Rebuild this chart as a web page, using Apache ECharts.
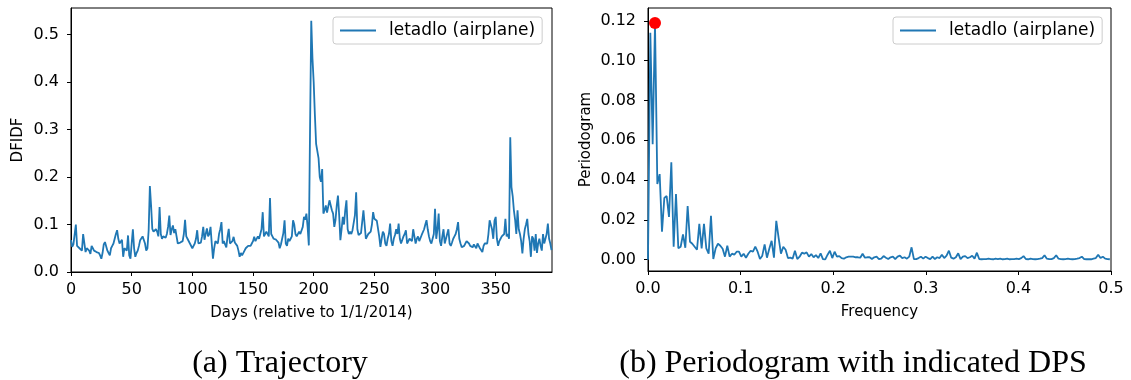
<!DOCTYPE html>
<html>
<head>
<meta charset="utf-8">
<script src="https://cdn.jsdelivr.net/npm/echarts@6/dist/echarts.min.js"></script>
<style>
html,body{margin:0;padding:0;background:#fff;}
#chart{width:1131px;height:380px;}
</style>
</head>
<body>
<div id="chart"></div>
<script>
// ---- data ----
const seriesName = 'letadlo (airplane)';
const dfidf = [
0.067,0.053,0.058,0.06,0.10,0.055,0.052,0.05,0.048,0.045,
0.08,0.078,0.042,0.05,0.048,0.045,0.038,0.055,0.05,0.045,
0.048,0.042,0.045,0.04,0.035,0.028,0.04,0.058,0.063,0.06,
0.045,0.04,0.035,0.05,0.055,0.06,0.07,0.08,0.088,0.07,
0.06,0.062,0.068,0.032,0.05,0.048,0.045,0.077,0.035,0.028,
0.06,0.09,0.05,0.032,0.04,0.045,0.055,0.067,0.07,0.075,
0.077,0.06,0.045,0.05,0.088,0.181,0.14,0.091,0.085,0.088,
0.09,0.085,0.075,0.137,0.08,0.07,0.075,0.078,0.072,0.08,
0.095,0.119,0.078,0.09,0.098,0.082,0.09,0.075,0.06,0.062,
0.062,0.06,0.065,0.08,0.11,0.075,0.07,0.068,0.06,0.058,
0.05,0.055,0.06,0.07,0.088,0.06,0.06,0.062,0.075,0.095,
0.068,0.07,0.092,0.075,0.08,0.095,0.06,0.028,0.05,0.065,
0.068,0.06,0.08,0.09,0.105,0.06,0.065,0.058,0.052,0.075,
0.091,0.06,0.058,0.065,0.074,0.062,0.06,0.055,0.045,0.032,
0.04,0.035,0.035,0.045,0.05,0.048,0.055,0.058,0.055,0.06,
0.065,0.074,0.065,0.068,0.075,0.07,0.08,0.09,0.126,0.075,
0.08,0.085,0.088,0.075,0.156,0.08,0.075,0.07,0.072,0.068,
0.065,0.062,0.05,0.058,0.07,0.082,0.109,0.06,0.055,0.07,
0.065,0.07,0.075,0.109,0.1,0.08,0.075,0.078,0.085,0.08,
0.08,0.095,0.116,0.11,0.123,0.095,0.056,0.3,0.529,0.45,
0.40,0.33,0.27,0.272,0.24,0.2,0.19,0.217,0.123,0.13,
0.14,0.125,0.123,0.151,0.148,0.13,0.123,0.095,0.11,0.14,
0.161,0.12,0.067,0.09,0.116,0.1,0.13,0.151,0.09,0.08,
0.085,0.08,0.088,0.09,0.12,0.168,0.09,0.078,0.08,0.082,
0.08,0.13,0.1,0.07,0.075,0.08,0.082,0.085,0.1,0.126,
0.112,0.11,0.108,0.11,0.075,0.053,0.07,0.085,0.08,0.06,
0.055,0.07,0.08,0.102,0.065,0.055,0.07,0.078,0.09,0.08,
0.102,0.07,0.06,0.06,0.075,0.08,0.088,0.06,0.065,0.07,
0.072,0.065,0.09,0.075,0.06,0.07,0.075,0.065,0.062,0.078,
0.08,0.09,0.1,0.109,0.09,0.075,0.065,0.06,0.06,0.08,
0.133,0.07,0.09,0.123,0.065,0.055,0.075,0.09,0.06,0.058,
0.08,0.09,0.06,0.055,0.062,0.07,0.075,0.08,0.09,0.105,
0.07,0.06,0.052,0.05,0.055,0.06,0.065,0.068,0.06,0.055,
0.055,0.052,0.058,0.055,0.05,0.06,0.055,0.05,0.048,0.042,
0.055,0.06,0.058,0.06,0.08,0.109,0.11,0.09,0.07,0.108,
0.116,0.07,0.055,0.065,0.07,0.075,0.072,0.08,0.112,0.075,
0.08,0.07,0.284,0.179,0.16,0.13,0.11,0.08,0.13,0.09,
0.08,0.065,0.039,0.07,0.09,0.1,0.112,0.08,0.065,0.032,
0.075,0.07,0.045,0.08,0.04,0.06,0.07,0.055,0.045,0.08,
0.06,0.07,0.08,0.102,0.07,0.06,0.046
];
const periodogram = [
0.0,0.114,0.058,0.119,0.038,0.043,0.014,0.031,0.032,0.0215,
0.049,0.0065,0.033,0.0057,0.0065,0.0127,0.006,0.027,0.009,0.008,
0.0065,0.005,0.018,0.0057,0.018,0.0057,0.003,0.022,0.0003,0.0057,
0.008,0.007,0.0055,0.0015,0.007,0.0015,0.003,0.0025,0.004,0.004,
0.0015,0.003,0.001,0.003,0.0045,0.004,0.0065,0.004,0.0003,0.002,
0.0077,0.001,0.0055,0.0095,0.001,0.0195,0.011,0.003,0.0065,0.005,
0.0008,0.001,0.0005,0.0045,0.0003,0.0015,0.0035,0.003,0.0037,0.0015,
0.0028,0.0012,0.0023,0.0008,0.0032,0.0003,0.0001,0.0025,0.0045,0.0008,
0.004,0.0015,0.0018,0.0008,0.0005,0.0012,0.0015,0.0015,0.0015,0.0012,
0.0012,0.001,0.003,0.001,0.0012,0.0012,0.0003,0.0012,0.0015,0.0003,
0.0005,0.0018,0.001,0.0003,0.0012,0.0015,0.0003,0.0015,0.002,0.0008,
0.0012,0.0005,0.0015,0.0062,0.0003,0.0003,0.0008,0.0015,0.0005,0.0015,
0.0008,0.0003,0.0015,0.0003,0.0012,0.0008,0.0025,0.0008,0.002,0.0045,
0.001,0.0005,0.0012,0.0032,0.0003,0.0015,0.0018,0.0008,0.0012,0.002,
0.0005,0.0035,0.0003,0.0002,0.0003,0.0003,0.0005,0.0003,0.0002,0.0005,
0.0003,0.0005,0.0002,0.0003,0.0005,0.0002,0.0003,0.0003,0.0005,0.0003,
0.0008,0.0018,0.0003,0.0002,0.0005,0.0003,0.0002,0.0003,0.0005,0.0008,
0.0022,0.0005,0.0003,0.0003,0.0008,0.0022,0.0005,0.0003,0.0002,0.0003,
0.0005,0.0003,0.0002,0.0003,0.0005,0.0008,0.0015,0.0003,0.0002,0.0003,
0.0002,0.0005,0.0008,0.0025,0.0008,0.0015,0.0005,0.0003,0.0002
];
const sampleCount = 397;           // days in the trajectory
const dpsFreq = [3 / 397];
const dpsValue = [0.119];
const leftXTicks = [0, 50, 100, 150, 200, 250, 300, 350];
const leftYTicks = [0.0, 0.1, 0.2, 0.3, 0.4, 0.5];
const rightXTicks = [0.0, 0.1, 0.2, 0.3, 0.4, 0.5];
const rightYTicks = [0.00, 0.02, 0.04, 0.06, 0.08, 0.10, 0.12];
const leftXLabel = 'Days (relative to 1/1/2014)';
const leftYLabel = 'DFIDF';
const rightXLabel = 'Frequency';
const rightYLabel = 'Periodogram';
const captionA = '(a) Trajectory';
const captionB = '(b) Periodogram with indicated DPS';

// ---- build ----
const trajData = dfidf.map((v, i) => [i, v]);
const perData = periodogram.map((v, k) => [k / sampleCount, v]);
const dpsData = dpsFreq.map((f, i) => [f, dpsValue[i]]);

const FONT = 'DejaVu Sans';
const BLUE = '#1f77b4';
const tickStyle = (vals) => ({
  axisLine: { show: true, onZero: false, lineStyle: { color: '#000', width: 1 } },
  axisTick: { show: true, inside: false, length: 4, customValues: vals, lineStyle: { color: '#000', width: 1 } },
  splitLine: { show: false },
});
function xAxis(gi, min, max, ticks, fmt, name) {
  return Object.assign({
    type: 'value', gridIndex: gi, min: min, max: max,
    name: name, nameLocation: 'middle', nameGap: 34,
    nameTextStyle: { fontFamily: FONT, fontSize: 15, color: '#000' },
    axisLabel: { customValues: ticks, formatter: fmt, margin: 10, fontFamily: FONT, fontSize: 16, color: '#000' },
  }, tickStyle(ticks));
}
function yAxis(gi, min, max, ticks, fmt, name, gap) {
  return Object.assign({
    type: 'value', gridIndex: gi, min: min, max: max,
    name: name, nameLocation: 'middle', nameGap: gap, nameRotate: 90,
    nameTextStyle: { fontFamily: FONT, fontSize: 15, color: '#000' },
    axisLabel: { customValues: ticks, formatter: fmt, margin: 12, fontFamily: FONT, fontSize: 16, color: '#000' },
  }, tickStyle(ticks));
}
function legend(left) {
  return {
    data: [seriesName], left: left, top: 17,
    orient: 'vertical',
    icon: 'rect', itemWidth: 36, itemHeight: 2,
    padding: [5, 7, 5, 7],
    borderColor: '#cccccc', borderWidth: 1, borderRadius: 3,
    backgroundColor: 'rgba(255,255,255,0.8)',
    textStyle: { fontFamily: FONT, fontSize: 17, color: '#000', padding: [0, 0, 0, 8] },
    selectedMode: false,
  };
}

const chart = echarts.init(document.getElementById('chart'), null, { renderer: 'canvas' });
chart.setOption({
  animation: false,
  backgroundColor: '#fff',
  grid: [
    { left: 71, top: 8, width: 481, height: 264, show: true, borderColor: '#000', borderWidth: 1, containLabel: false },
    { left: 648, top: 8, width: 463, height: 263, show: true, borderColor: '#000', borderWidth: 1, containLabel: false },
  ],
  xAxis: [
    xAxis(0, 0, 396.4, leftXTicks, v => String(v), leftXLabel),
    xAxis(1, 0, 0.5, rightXTicks, v => v.toFixed(1), rightXLabel),
  ],
  yAxis: [
    yAxis(0, 0, 0.556, leftYTicks, v => v.toFixed(1), leftYLabel, 45),
    yAxis(1, -0.0057, 0.1265, rightYTicks, v => v.toFixed(2), rightYLabel, 54),
  ],
  legend: [legend(333), legend(893)],
  series: [
    { name: seriesName, type: 'line', xAxisIndex: 0, yAxisIndex: 0, data: trajData,
      showSymbol: false, symbol: 'none', lineStyle: { color: BLUE, width: 1.8 }, itemStyle: { color: BLUE } },
    { name: seriesName, type: 'line', xAxisIndex: 1, yAxisIndex: 1, data: perData,
      showSymbol: false, symbol: 'none', lineStyle: { color: BLUE, width: 1.8 }, itemStyle: { color: BLUE } },
    { name: 'DPS', type: 'scatter', xAxisIndex: 1, yAxisIndex: 1, data: dpsData,
      symbol: 'circle', symbolSize: 12, itemStyle: { color: '#ff0000', opacity: 1 }, z: 5 },
  ],
  graphic: [
    { type: 'text', x: 280, y: 364, style: { text: captionA, fontFamily: 'Liberation Serif', fontSize: 32, fill: '#000', textAlign: 'center', textVerticalAlign: 'middle' } },
    { type: 'text', x: 853, y: 364, style: { text: captionB, fontFamily: 'Liberation Serif', fontSize: 32, fill: '#000', textAlign: 'center', textVerticalAlign: 'middle' } },
  ],
});
</script>
</body>
</html>
